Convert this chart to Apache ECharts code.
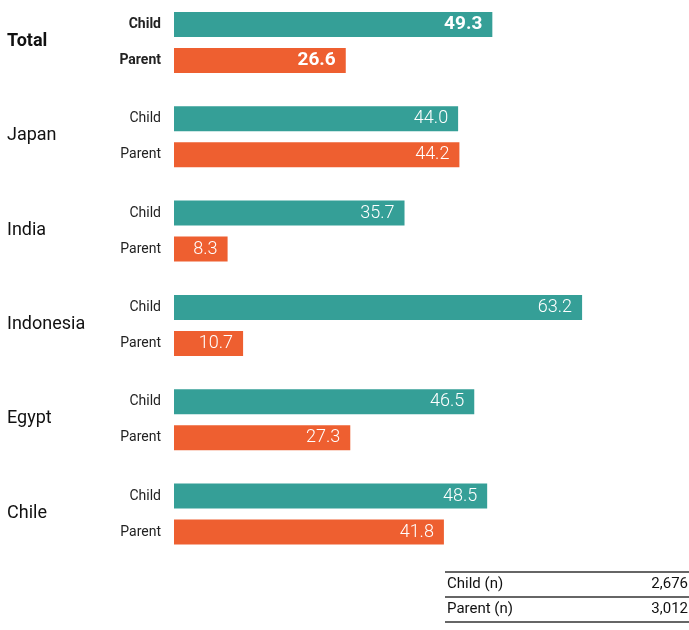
<!DOCTYPE html>
<html>
<head>
<meta charset="utf-8">
<script src="https://cdn.jsdelivr.net/npm/echarts@6/dist/echarts.min.js"></script>
<style>
  html, body { margin: 0; padding: 0; background: #fff; }
  #main { width: 689px; height: 630px; }
</style>
</head>
<body>
<div id="main"></div>
<script>
// data
var countries = ['Total', 'Japan', 'India', 'Indonesia', 'Egypt', 'Chile'];
var roles = ['Child', 'Parent'];
var childValues = [49.3, 44.0, 35.7, 63.2, 46.5, 48.5];
var parentValues = [26.6, 44.2, 8.3, 10.7, 27.3, 41.8];
var sampleLabels = ['Child (n)', 'Parent (n)'];
var sampleSizes = ['2,676', '3,012'];

var TEAL = '#359f97';
var ORANGE = '#ee5f30';
var FONT = 'Roboto, "Liberation Sans", sans-serif';

var dom = document.getElementById('main');
var myChart = echarts.init(dom, null, {renderer: 'canvas'});

var grids = [], xAxes = [], yAxes = [], series = [], titles = [];
var groupStep = 94.3;

for (var i = 0; i < countries.length; i++) {
    var isTotal = (i === 0);
    var gridTop = 6.5 + i * groupStep;
    grids.push({left: 174, right: 63, top: gridTop, height: 72});
    xAxes.push({
        gridIndex: i, type: 'value', min: 0, max: 70,
        show: false
    });
    yAxes.push({
        gridIndex: i, type: 'category', data: roles, inverse: true,
        axisLine: {show: false}, axisTick: {show: false}, splitLine: {show: false},
        axisLabel: {
            margin: 13, color: '#222', fontSize: 14, padding: [5, 0, 0, 0],
            fontFamily: FONT, fontWeight: isTotal ? 'bold' : 'normal'
        }
    });
    titles.push({
        text: countries[i], left: 7, top: gridTop + 26,
        padding: 0,
        textStyle: {
            fontSize: 18, fontFamily: FONT, color: '#111',
            fontWeight: isTotal ? 'bold' : 'normal'
        }
    });
    series.push({
        type: 'bar', xAxisIndex: i, yAxisIndex: i, barWidth: 25,
        silent: true, animation: false,
        data: [
            {value: childValues[i], itemStyle: {color: TEAL}},
            {value: parentValues[i], itemStyle: {color: ORANGE}}
        ],
        label: {
            show: true, position: 'insideRight', distance: 10,
            color: '#fff', fontFamily: FONT,
            fontSize: isTotal ? 19 : 18,
            fontWeight: isTotal ? 'bold' : 300,
            formatter: function (p) { return p.value.toFixed(1); }
        }
    });
}

// little sample-size table under the chart
var tbl = [];
var lineYs = [572, 597, 622];
for (var k = 0; k < lineYs.length; k++) {
    tbl.push({
        type: 'line', shape: {x1: 445, y1: lineYs[k], x2: 689, y2: lineYs[k]},
        style: {stroke: '#333', lineWidth: 1.3}
    });
}
for (var r = 0; r < sampleLabels.length; r++) {
    var cy = (lineYs[r] + lineYs[r + 1]) / 2;
    tbl.push({
        type: 'text', x: 447, y: cy,
        style: {text: sampleLabels[r], fontSize: 15, fontFamily: FONT, fill: '#111',
                verticalAlign: 'middle', align: 'left'}
    });
    tbl.push({
        type: 'text', x: 688, y: cy,
        style: {text: sampleSizes[r], fontSize: 15, fontFamily: FONT, fill: '#111',
                verticalAlign: 'middle', align: 'right'}
    });
}

var option = {
    backgroundColor: '#fff',
    animation: false,
    title: titles,
    grid: grids,
    xAxis: xAxes,
    yAxis: yAxes,
    series: series,
    graphic: tbl
};

if (option && typeof option === "object") {
    myChart.setOption(option, true);
}
</script>
</body>
</html>
